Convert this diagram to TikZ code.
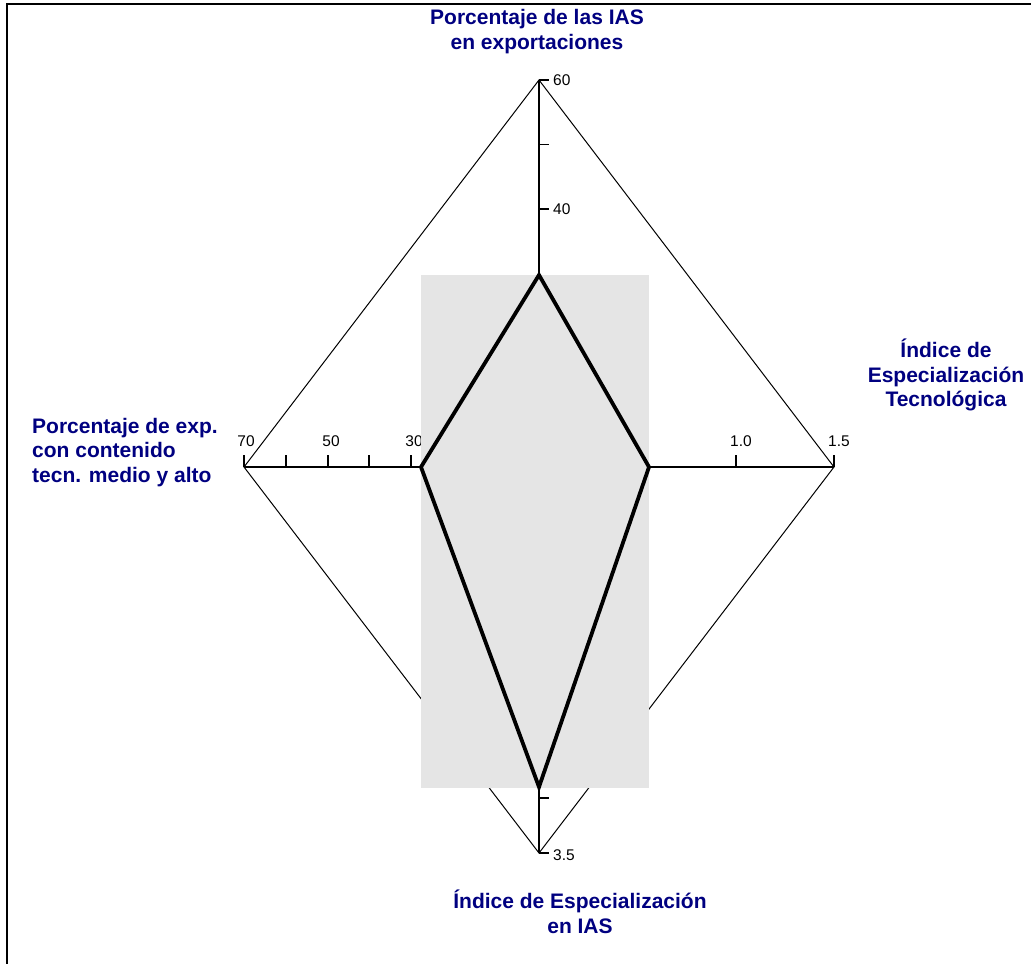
\documentclass[tikz,border=0pt]{standalone}
\usepackage{fontspec}
\setmainfont{Liberation Sans}
\usetikzlibrary{positioning}
\definecolor{navy}{HTML}{000080}
\definecolor{bandgrey}{HTML}{E5E5E5}
\tikzset{
  frame/.style={line width=2pt,color=black},
  outline/.style={line width=1pt,color=black},
  axis/.style={line width=1.2pt,color=black},
  ticklbl/.style={font=\fontsize{15.5}{18}\selectfont,inner sep=0pt,text=black},
  ttl/.style={font=\fontsize{21}{24.5}\selectfont\bfseries,text=navy,align=center,inner sep=0pt},
  series/.style={line width=3.8pt,line join=miter,color=black},
}

\begin{document}
\begin{tikzpicture}[x=1pt,y=-1pt]
    \useasboundingbox (0,0) rectangle (1031,964);
    \draw[frame] (1031,4) -- (7,4) -- (7,964);
    % axes ends
    \coordinate (top) at (539,80);
    \coordinate (right) at (834,467);
    \coordinate (bot) at (539,853);
    \coordinate (left) at (244,467);
    \draw[outline] (top) -- (right) -- (bot) -- (left) -- cycle;
    \draw[axis] (top) -- (bot);
    \draw[axis] (left) -- (right);
    \foreach \y in {80,144.5,209,798,853} \draw[axis] (539,\y) -- ++(10,0);
    \foreach \x in {244,286,328,369,411,736,834} \draw[axis] (\x,467) -- ++(0,-12);
    \foreach \y/\v in {80/60,209/40,855/3.5}
      \node[ticklbl,anchor=west] at (553,\y) {\v};
    \foreach \x/\v in {246/70,331/50,414/30,741/1.0,839/1.5}
      \node[ticklbl,anchor=south] at (\x,447) {\v};
    % shaded band and series
    \fill[bandgrey] (421,275) rectangle (649,788);
    \coordinate (s1) at (539,275);
    \coordinate (s2) at (649,467);
    \coordinate (s3) at (539,787);
    \coordinate (s4) at (421,467);
    \draw[series] (s1) -- (s2) -- (s3) -- (s4) -- cycle;
    % axis titles
    \node[ttl,anchor=north] (tTop) at (537,9.5) {Porcentaje de las IAS\\en exportaciones};
    \node[ttl,anchor=north] (tRight) at (946,339) {Índice de\\Especialización\\Tecnológica};
    \node[ttl,anchor=north west,align=left] (tLeft) at (32,418) {Porcentaje de exp.\\con contenido\\tecn. medio y alto};
    \node[ttl,anchor=north] (tBot) at (580,890) {Índice de Especialización\\en IAS};
\end{tikzpicture}
\end{document}
